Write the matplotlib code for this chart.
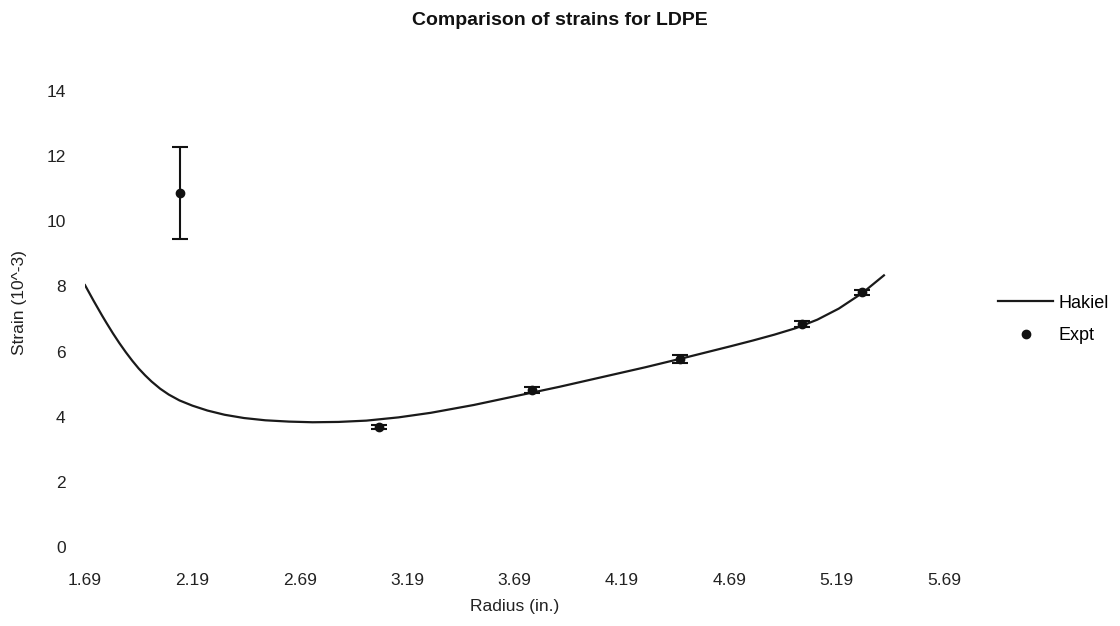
import matplotlib
matplotlib.use("Agg")
import matplotlib.pyplot as plt
from matplotlib.lines import Line2D

plt.rcParams['font.family'] = ['Liberation Sans', 'DejaVu Sans']

# Hakiel model curve
hakiel_r = [1.69, 1.71, 1.73, 1.75, 1.77, 1.79, 1.82, 1.85, 1.88, 1.91, 1.94, 1.97,
            2.00, 2.04, 2.08, 2.13, 2.19, 2.26, 2.34, 2.43, 2.53, 2.64, 2.75, 2.87,
            3.00, 3.15, 3.30, 3.50, 3.70, 3.90, 4.10, 4.30, 4.50, 4.70, 4.80, 4.90,
            5.00, 5.10, 5.20, 5.31, 5.41]
hakiel_strain = [8.04, 7.80, 7.56, 7.33, 7.10, 6.88, 6.56, 6.26, 5.98, 5.72, 5.48, 5.27,
                 5.08, 4.86, 4.68, 4.50, 4.34, 4.19, 4.06, 3.96, 3.89, 3.85, 3.83, 3.84,
                 3.88, 3.98, 4.12, 4.36, 4.64, 4.92, 5.22, 5.52, 5.84, 6.17, 6.34, 6.52,
                 6.72, 6.98, 7.32, 7.80, 8.34]

# Experimental points
expt_r = [2.13, 3.06, 3.77, 4.46, 5.03, 5.31]
expt_strain = [10.86, 3.68, 4.82, 5.77, 6.84, 7.82]
expt_err = [1.41, 0.06, 0.10, 0.12, 0.10, 0.07]

xticks = [1.69, 2.19, 2.69, 3.19, 3.69, 4.19, 4.69, 5.19, 5.69]
xtick_labels = ['1.69', '2.19', '2.69', '3.19', '3.69', '4.19', '4.69', '5.19', '5.69']
yticks = [0, 2, 4, 6, 8, 10, 12, 14]

fig = plt.figure(figsize=(11.2, 6.26), dpi=100)
ax = fig.add_axes([0.0759, 0.1262, 0.767, 0.7284])

ax.plot(hakiel_r, hakiel_strain, color='#1a1a1a', lw=1.6, label='Hakiel',
        solid_joinstyle='round')
ax.errorbar(expt_r, expt_strain, yerr=expt_err, fmt='o', color='#111111',
            markersize=6, capsize=6, elinewidth=1.5, capthick=1.5, label='Expt')

ax.set_xlim(1.69, 5.69)
ax.set_ylim(0, 14)
ax.set_xticks(xticks)
ax.set_xticklabels(xtick_labels)
ax.set_yticks(yticks)
for s in ax.spines.values():
    s.set_visible(False)
ax.tick_params(axis='both', length=0, labelsize=12.5, colors='#222222')
ax.tick_params(axis='x', pad=19)
ax.tick_params(axis='y', pad=14)

ax.set_xlabel('Radius (in.)', fontsize=12.5, color='#222222')
ax.xaxis.set_label_coords(0.5, -0.115)
ax.set_ylabel('Strain (10^-3)', fontsize=12.5, color='#222222')
ax.yaxis.set_label_coords(-0.068, 0.537)

fig.text(0.5, 0.967, 'Comparison of strains for LDPE', ha='center', va='center',
         fontsize=14, fontweight='bold', color='#111111')

h1 = Line2D([], [], color='#1a1a1a', lw=1.6)
h2 = Line2D([], [], color='#111111', marker='o', ls='none', markersize=6)
fig.legend([h1, h2], ['Hakiel', 'Expt'], loc='center left',
           bbox_to_anchor=(0.885, 0.49), frameon=False, fontsize=13,
           handlelength=3.0, handletextpad=0.3, labelspacing=0.85,
           borderaxespad=0)

fig.savefig('out.png', dpi=100, facecolor='white')
